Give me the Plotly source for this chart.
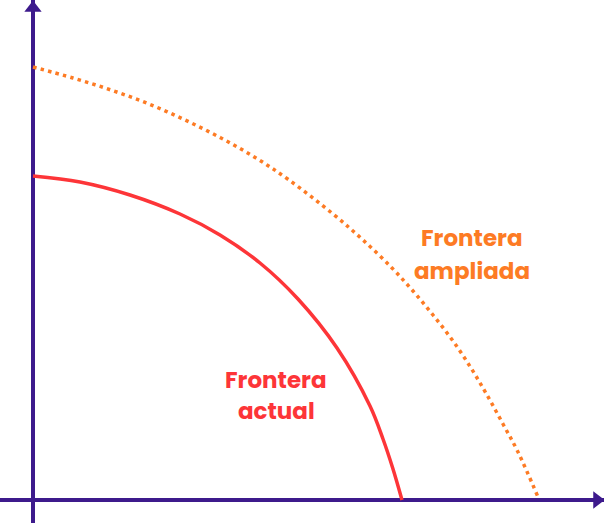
import plotly.graph_objects as go

# production possibility frontiers
actual_x = [0, 47, 97, 147, 187, 227, 265, 304, 337, 350, 360, 369]
actual_y = [324, 318, 305, 286, 265, 237, 201, 152, 94, 61, 31, 0]

ampliada_x = [0, 40, 78, 116, 152, 188, 223, 256, 300, 330, 359, 380,
              400, 420, 438, 454, 470, 485, 505]
ampliada_y = [433, 422, 410, 396, 380, 362, 342, 320, 286, 260, 232, 209,
              185, 159, 132, 105, 76, 48, 3]

label_actual = ["Frontera", "actual"]
label_ampliada = ["Frontera", "ampliada"]

PURPLE = "#3d1a8c"
RED = "#fd3538"
ORANGE = "#fd7b24"

fig = go.Figure()

fig.add_trace(go.Scatter(
    x=actual_x, y=actual_y, mode="lines",
    line=dict(color=RED, width=3.5, shape="spline", smoothing=1),
    hoverinfo="skip",
))
fig.add_trace(go.Scatter(
    x=ampliada_x, y=ampliada_y, mode="lines",
    line=dict(color=ORANGE, width=3.5, shape="spline", smoothing=1,
              dash="3.5px,4.2px"),
    hoverinfo="skip",
))

# arrow heads on the axes
fig.add_trace(go.Scatter(
    x=[0], y=[492], mode="markers",
    marker=dict(symbol="triangle-up", size=15, color=PURPLE),
    cliponaxis=False, hoverinfo="skip",
))
fig.add_trace(go.Scatter(
    x=[564], y=[0], mode="markers",
    marker=dict(symbol="triangle-right", size=15, color=PURPLE),
    cliponaxis=False, hoverinfo="skip",
))

font = dict(family="Poppins, 'Open Sans', sans-serif", size=23, weight="bold")
for i, txt in enumerate(label_ampliada):
    fig.add_annotation(x=439, y=262 - 33 * i, text=txt, showarrow=False,
                       font=dict(font, color=ORANGE))
for i, txt in enumerate(label_actual):
    fig.add_annotation(x=243, y=120 - 31 * i, text=txt, showarrow=False,
                       font=dict(font, color=RED))

axis = dict(showgrid=False, showticklabels=False, ticks="",
            zeroline=True, zerolinecolor=PURPLE, zerolinewidth=4)
fig.update_layout(
    width=604, height=523,
    margin=dict(l=0, r=0, t=0, b=0),
    plot_bgcolor="white", paper_bgcolor="white",
    showlegend=False,
    xaxis=dict(axis, range=[-33, 571]),
    yaxis=dict(axis, range=[-23, 500]),
)

# page body has an 8px default margin; drop it so the chart fills the window
fig.write_html("out.html", config={"displayModeBar": False},
               post_script="document.body.style.margin='0';")
